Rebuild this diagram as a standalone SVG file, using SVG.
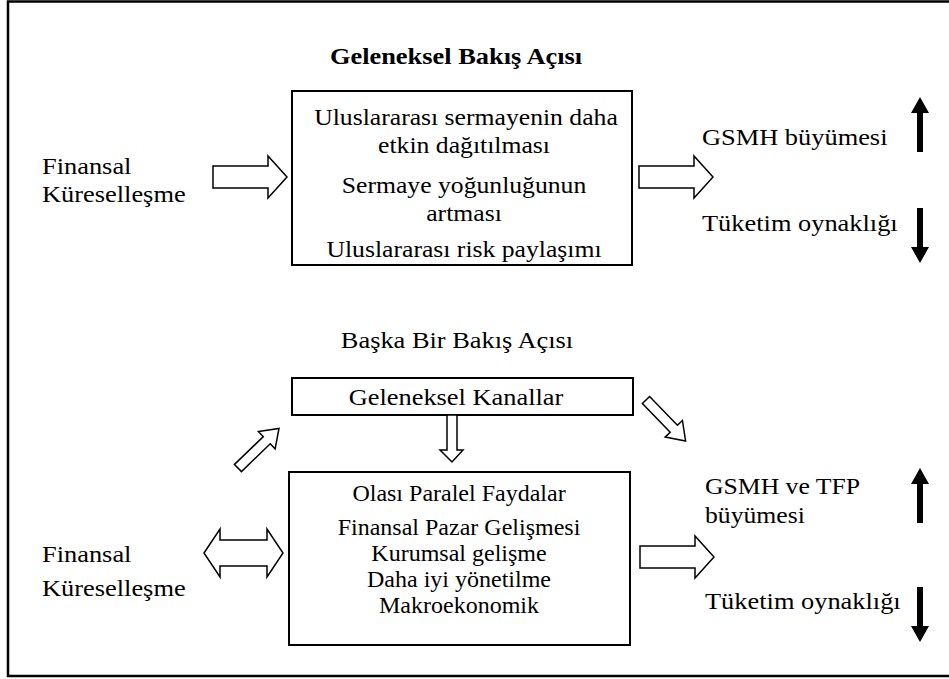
<svg xmlns="http://www.w3.org/2000/svg" width="949" height="679" viewBox="0 0 949 679">
<style>
text{font-family:"Liberation Serif","Times New Roman",serif;font-size:24px;fill:#000}
.b{font-weight:bold}
.m{text-anchor:middle}
.box{fill:#fff;stroke:#000;stroke-width:2}
.ha{fill:#fff;stroke:#000;stroke-width:1.5;stroke-linejoin:miter}
.sa{fill:#000;stroke:none}
</style>
<defs>
<path id="rarrow" d="M0,-11 H55 V-21 L74,0 L55,21 V11 H0 Z"/>
<path id="diag" d="M0,-5 H40 V-12 L57,0 L40,12 V5 H0 Z"/>
<path id="up" d="M-3,0 V-39 H-9 L0,-55 L9,-39 H3 V0 Z"/>
</defs>
<rect x="8" y="1.5" width="960" height="674.5" fill="none" stroke="#000" stroke-width="2.5"/>

<g id="title1"><text class="b m" transform="translate(456 64) scale(1.1 1)">Geleneksel Bakış Açısı</text></g>

<g id="fk1">
<text transform="translate(42 174) scale(1.1 1)">Finansal</text>
<text transform="translate(42 202) scale(1.1 1)">Küreselleşme</text>
</g>

<g id="box1">
<rect class="box" x="292" y="91" width="340" height="174"/>
<text class="m" transform="translate(466 125) scale(1.07 1)">Uluslararası sermayenin daha</text>
<text class="m" transform="translate(464 153) scale(1.07 1)">etkin dağıtılması</text>
<text class="m" transform="translate(464 193) scale(1.07 1)">Sermaye yoğunluğunun</text>
<text class="m" transform="translate(464 221) scale(1.07 1)">artması</text>
<text class="m" transform="translate(464 257) scale(1.07 1)">Uluslararası risk paylaşımı</text>
</g>

<g id="out1">
<text transform="translate(702 145) scale(1.1 1)">GSMH büyümesi</text>
<text transform="translate(702 231) scale(1.1 1)">Tüketim oynaklığı</text>
</g>

<g id="title2"><text class="m" transform="translate(457 348) scale(1.1 1)">Başka Bir Bakış Açısı</text></g>

<g id="kanallar">
<rect class="box" x="292" y="378" width="341" height="37"/>
<text class="m" transform="translate(456 405) scale(1.1 1)">Geleneksel Kanallar</text>
</g>

<g id="fk2">
<text transform="translate(42 562) scale(1.1 1)">Finansal</text>
<text transform="translate(42 596) scale(1.1 1)">Küreselleşme</text>
</g>

<g id="box2">
<rect class="box" x="289" y="472" width="341" height="173"/>
<text class="m" transform="translate(459 501)">Olası Paralel Faydalar</text>
<text class="m" transform="translate(459 535)">Finansal Pazar Gelişmesi</text>
<text class="m" transform="translate(459 561)">Kurumsal gelişme</text>
<text class="m" transform="translate(459 587)">Daha iyi yönetilme</text>
<text class="m" transform="translate(459 613)">Makroekonomik</text>
</g>

<g id="out2">
<text transform="translate(705 494) scale(1.07 1)">GSMH ve TFP</text>
<text transform="translate(705 523) scale(1.07 1)">büyümesi</text>
<text transform="translate(705 609) scale(1.1 1)">Tüketim oynaklığı</text>
</g>

<g id="connectors">
<use href="#rarrow" class="ha" transform="translate(213 177)"/>
<use href="#rarrow" class="ha" transform="translate(639 177)"/>
<use href="#rarrow" class="ha" transform="translate(640 557)"/>
<path class="ha" d="M204,553 L220,529 V540 H267 V529 L283,553 L267,577 V566 H220 V577 Z"/>
<path class="ha" d="M447,415 H457 V450 H463 L452,462 L440,450 H447 Z"/>
<use href="#diag" class="ha" transform="translate(238 468) rotate(-44)"/>
<use href="#diag" class="ha" transform="translate(646 400) rotate(46)"/>
<use href="#up" class="sa" transform="translate(920 152)"/>
<use href="#up" class="sa" transform="translate(920 208) scale(1 -1)"/>
<use href="#up" class="sa" transform="translate(920 523)"/>
<use href="#up" class="sa" transform="translate(920 587) scale(1 -1)"/>
</g>
</svg>
